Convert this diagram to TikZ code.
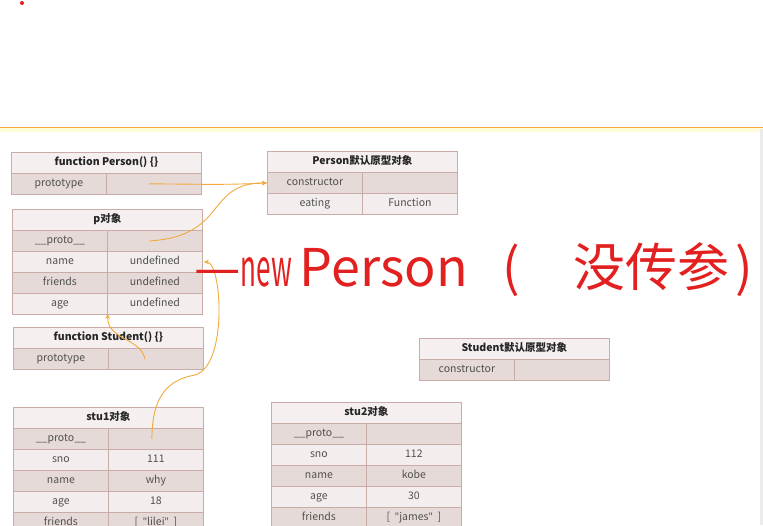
\documentclass[tikz,border=0pt]{standalone}
\usepackage{fontspec}
\setmainfont{Noto Sans CJK SC}
\newfontfamily\latin{Noto Sans}
\usepackage{xcolor}
\usetikzlibrary{arrows.meta}
\definecolor{bdr}{HTML}{C9ABA8}
\definecolor{cdark}{HTML}{E6DAD8}
\definecolor{clight}{HTML}{F3EEED}
\definecolor{chead}{HTML}{F5F0EF}
\definecolor{txt}{HTML}{505050}
\definecolor{htxt}{HTML}{252525}
\definecolor{lnk}{HTML}{F0AA3E}
\definecolor{hand}{HTML}{E2201F}
\newcommand\qt{{\latin"}}

\begin{document}
\begin{tikzpicture}[x=1pt,y=-1pt,
  cell/.style={draw=bdr,line width=0.8pt,minimum width=95pt,minimum height=21pt,
    inner sep=0pt,anchor=north west,text height=8pt,text depth=2pt,
    font=\fontsize{10.5}{12}\selectfont,text=txt},
  dk/.style={cell,fill=cdark},
  lt/.style={cell,fill=clight},
  hdr/.style={cell,fill=chead,minimum width=190pt,
    font=\fontsize{10.5}{12}\selectfont\bfseries,text=htxt},
  link/.style={draw=lnk,line width=0.9pt,-{Stealth[length=5pt,width=4.5pt]}}]
 \useasboundingbox (0,0) rectangle (763,525);
 \clip (0,0) rectangle (763,525);
 % slide frame
 \fill[white] (0,0) rectangle (763,525);
 \fill[hand] (22,3) circle (2);
 \fill[yellow!15] (0,128) rectangle (763,132);
 \draw[lnk,line width=1.2pt] (0,127.5) -- (763,127.5);
 \fill[black!8] (760,129) rectangle (763,525);
 % function Person
 \node[hdr] (pf-h) at (11,152) {function Person() \{\}};
 \node[dk] (pf-k1) at (11,173) {prototype};  \node[dk] (pf-v1) at (106,173) {};
 % p object
 \node[hdr] (po-h) at (12,209) {p对象};
 \node[dk] (po-k1) at (12,230) {\_\_proto\_\_}; \node[dk] (po-v1) at (107,230) {};
 \node[lt] (po-k2) at (12,251) {name};    \node[lt] (po-v2) at (107,251) {undefined};
 \node[dk] (po-k3) at (12,272) {friends}; \node[dk] (po-v3) at (107,272) {undefined};
 \node[lt] (po-k4) at (12,293) {age};     \node[lt] (po-v4) at (107,293) {undefined};
 % Person prototype
 \node[hdr] (pp-h) at (267,151) {Person默认原型对象};
 \node[dk] (pp-k1) at (267,172) {constructor}; \node[dk] (pp-v1) at (362,172) {};
 \node[lt] (pp-k2) at (267,193) {eating};      \node[lt] (pp-v2) at (362,193) {Function};
 % function Student
 \node[hdr] (sf-h) at (13,327) {function Student() \{\}};
 \node[dk] (sf-k1) at (13,348) {prototype}; \node[dk] (sf-v1) at (108,348) {};
 % Student prototype
 \node[hdr] (sp-h) at (419,338) {Student默认原型对象};
 \node[dk] (sp-k1) at (419,359) {constructor}; \node[dk] (sp-v1) at (514,359) {};
 % stu1 object
 \node[hdr] (s1-h) at (13,407) {stu1对象};
 \node[dk] (s1-k1) at (13,428) {\_\_proto\_\_}; \node[dk] (s1-v1) at (108,428) {};
 \node[lt] (s1-k2) at (13,449) {sno};     \node[lt] (s1-v2) at (108,449) {111};
 \node[dk] (s1-k3) at (13,470) {name};    \node[dk] (s1-v3) at (108,470) {why};
 \node[lt] (s1-k4) at (13,491) {age};     \node[lt] (s1-v4) at (108,491) {18};
 \node[dk] (s1-k5) at (13,512) {friends}; \node[dk] (s1-v5) at (108,512) {[\ \ \qt lilei\qt\ \ ]};
 % stu2 object
 \node[hdr] (s2-h) at (271,402) {stu2对象};
 \node[dk] (s2-k1) at (271,423) {\_\_proto\_\_}; \node[dk] (s2-v1) at (366,423) {};
 \node[lt] (s2-k2) at (271,444) {sno};     \node[lt] (s2-v2) at (366,444) {112};
 \node[dk] (s2-k3) at (271,465) {name};    \node[dk] (s2-v3) at (366,465) {kobe};
 \node[lt] (s2-k4) at (271,486) {age};     \node[lt] (s2-v4) at (366,486) {30};
 \node[dk] (s2-k5) at (271,507) {friends}; \node[dk] (s2-v5) at (366,507) {[\ \ \qt james\qt\ \ ]};
 % links
 \coordinate (a1) at ([xshift=-5pt]pf-v1.center);
 \coordinate (a2) at ([xshift=-5pt]po-v1.center);
 \coordinate (a3) at ([xshift=-11pt]sf-v1.center);
 \coordinate (a4) at ([xshift=-4pt]s1-v1.center);
 \draw[link] (a1) to[out=0,in=183] (pp-k1.west);
 \draw[link] (a2) .. controls (228,236) and (205,183) .. (pp-k1.west);
 \draw[link] (a3) .. controls (141,338) and (107,340) .. ([yshift=1pt]po-k4.south east);
 \draw[link] (a4) .. controls (152,400) and (165,380) .. (195,375)
   .. controls (228,366) and (222,262) .. ([xshift=1pt]po-v2.east);
 % handwritten note
 \node[font=\fontsize{52}{52}\selectfont,text=hand,anchor=west,inner sep=0pt] (note) at (194,270)
   {—\scalebox{0.5}[1]{new}\hspace{8pt}Person\hspace{35pt}(\hspace{53pt}没传参\hspace{6pt})};
\end{tikzpicture}
\end{document}
